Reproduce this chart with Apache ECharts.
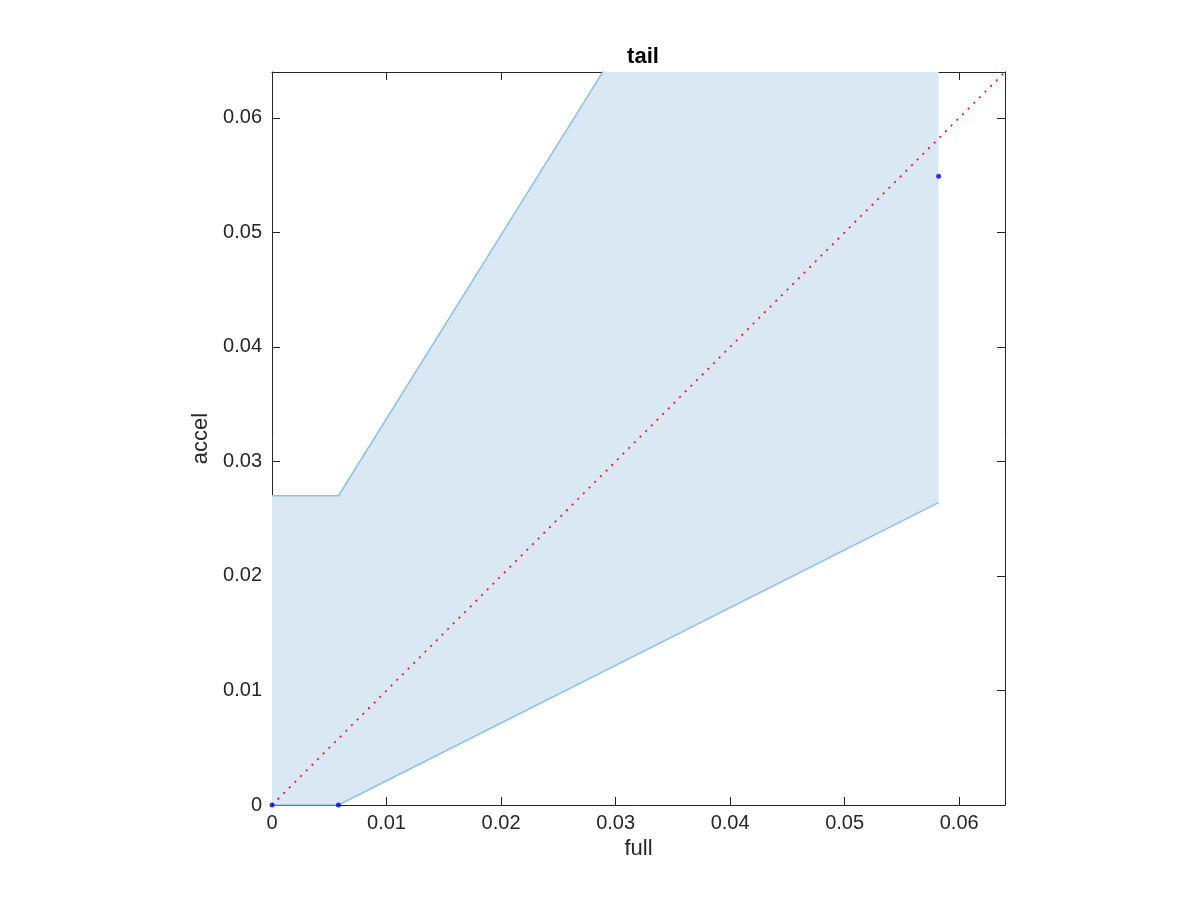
<!DOCTYPE html>
<html>
<head>
<meta charset="utf-8">
<script src="https://cdn.jsdelivr.net/npm/echarts@6/dist/echarts.min.js"></script>
<style>html,body{margin:0;padding:0;background:#fff}#c{width:1200px;height:900px}</style>
</head>
<body>
<div id="c"></div>
<script>
// Band boundaries (x = full, y = accel)
const bandX = [0, 0.0058, 0.0582];
const lowerY = [0, 0, 0.0264];
const upperY = [0.027, 0.027, 0.111];
// Blue data points
const pointsX = [0, 0.0058, 0.0582];
const pointsY = [0, 0, 0.0549];
// Diagonal reference line
const diagX = [0, 0.064];
const diagY = [0, 0.064];
const tickValues = [0, 0.01, 0.02, 0.03, 0.04, 0.05, 0.06];

const axisColor = '#262626';
const fmt = v => {
  const hit = tickValues.find(t => Math.abs(t - v) < 1e-9);
  if (hit === undefined) return '';
  return hit === 0 ? '0' : hit.toFixed(2);
};
const font = 'Liberation Sans, Arial, Helvetica, sans-serif';

const chart = echarts.init(document.getElementById('c'));
const baseAxis = {
  type: 'value', min: 0, max: 0.064, interval: 0.01,
  axisLine: { show: true, onZero: false, lineStyle: { color: axisColor, width: 1 } },
  axisTick: { show: true, inside: true, length: 8, lineStyle: { color: axisColor } },
  splitLine: { show: false },
};
// polygon: lower boundary forward, upper boundary backward
const bandPoly = bandX.map((x, i) => [x, lowerY[i]])
  .concat(bandX.map((x, i) => [x, upperY[i]]).reverse());

chart.setOption({
  animation: false,
  title: { text: 'tail', left: 638, top: 41, textAlign: 'center',
    textStyle: { fontFamily: font, fontSize: 22, fontWeight: 'bold', color: '#000' } },
  grid: { left: 272, top: 72, width: 733, height: 733 },
  xAxis: [
    Object.assign({}, baseAxis, { position: 'bottom', name: 'full', nameLocation: 'middle', nameGap: 29,
      nameTextStyle: { fontFamily: font, fontSize: 22, color: axisColor },
      axisLabel: { formatter: fmt, fontFamily: font, fontSize: 20, color: axisColor, margin: 8 } }),
    Object.assign({}, baseAxis, { position: 'top', axisLabel: { show: false } })
  ],
  yAxis: [
    Object.assign({}, baseAxis, { position: 'left', name: 'accel', nameLocation: 'middle', nameGap: 57,
      nameTextStyle: { fontFamily: font, fontSize: 22, color: axisColor },
      axisLabel: { formatter: fmt, fontFamily: font, fontSize: 20, color: axisColor, margin: 10 } }),
    Object.assign({}, baseAxis, { position: 'right', axisLabel: { show: false } })
  ],
  series: [
    { type: 'custom', clip: true, z: 1,
      data: [0],
      renderItem: function (params, api) {
        const pts = bandPoly.map(p => api.coord(p));
        return { type: 'polygon', shape: { points: pts }, style: { fill: '#dae8f4', stroke: null } };
      } },
    { type: 'line', symbol: 'none', clip: true,
      data: bandX.map((x, i) => [x, lowerY[i]]),
      lineStyle: { color: '#8ec1e4', width: 1.5 }, z: 2 },
    { type: 'line', symbol: 'none', clip: true,
      data: bandX.map((x, i) => [x, upperY[i]]),
      lineStyle: { color: '#8ec1e4', width: 1.5 }, z: 2 },
    { type: 'line', symbol: 'none', clip: true,
      data: diagX.map((x, i) => [x, diagY[i]]),
      lineStyle: { color: '#ff0000', width: 1.6, type: [2, 6] }, z: 3 },
    { type: 'scatter', symbol: 'circle', symbolSize: 5,
      data: pointsX.map((x, i) => [x, pointsY[i]]),
      itemStyle: { color: '#0000ff' }, z: 4 }
  ]
});
</script>
</body>
</html>
